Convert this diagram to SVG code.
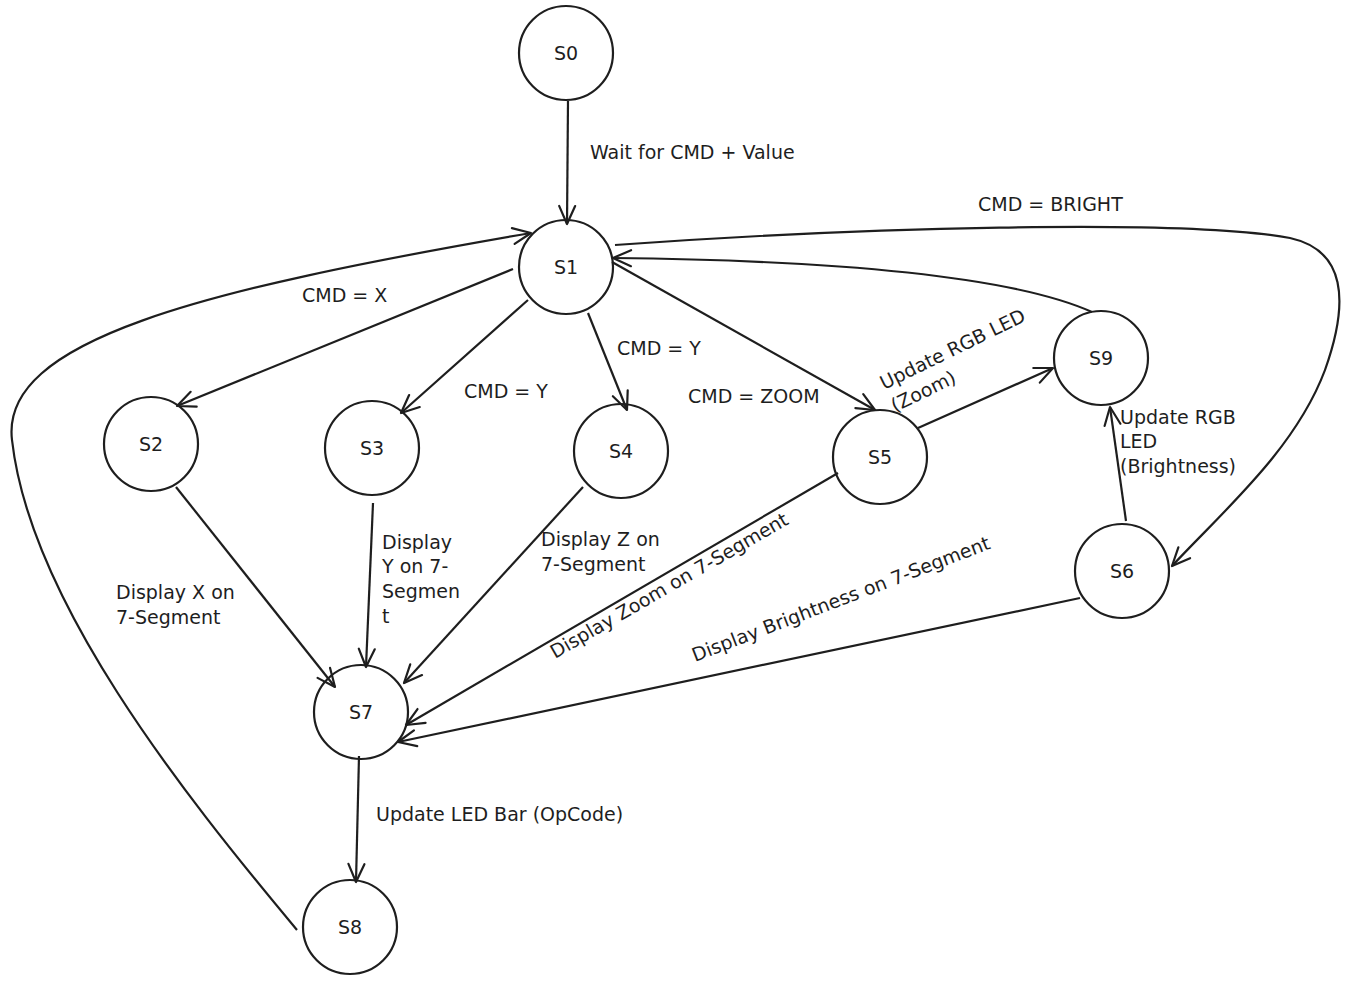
<svg xmlns="http://www.w3.org/2000/svg" width="1357" height="982" viewBox="0 0 1357 982">
<style>
.node circle{fill:none;stroke:#1e1e1e;stroke-width:2.2}
.node text{font-family:"DejaVu Sans",sans-serif;font-size:19px;fill:#1e1e1e;text-anchor:middle}
.edge{fill:none;stroke:#1e1e1e;stroke-width:2.2;marker-end:url(#arr)}
.lbl{font-family:"DejaVu Sans",sans-serif;font-size:19px;fill:#1e1e1e}
</style>
<defs>
<marker id="arr" viewBox="0 0 24 24" refX="21" refY="12" markerWidth="24" markerHeight="24" markerUnits="userSpaceOnUse" orient="auto">
<path d="M3,4 L21,12 L3,20" fill="none" stroke="#1e1e1e" stroke-width="2.2" stroke-linecap="round" stroke-linejoin="round"/>
</marker>
</defs>
<rect width="1357" height="982" fill="#ffffff"/>
<g id="connectors">
<path class="edge" d="M568,101 L567,224"/>
<path class="edge" d="M513,269 L177,406"/>
<path class="edge" d="M528,300 L401,413"/>
<path class="edge" d="M588,313 L627,410"/>
<path class="edge" d="M612,262 L875,410"/>
<path class="edge" d="M615,245 C850,228 1180,218 1290,238 C1345,250 1350,300 1325,370 C1295,450 1222,512 1172,566"/>
<path class="edge" d="M1092,312 Q980,262 613,258"/>
<path class="edge" d="M918,428 L1053,368"/>
<path class="edge" d="M1126,521 L1110,407"/>
<path class="edge" d="M176,487 L335,687"/>
<path class="edge" d="M373,503 L366,667"/>
<path class="edge" d="M583,487 L404,683"/>
<path class="edge" d="M838,473 L406,725"/>
<path class="edge" d="M1080,598 L398,742"/>
<path class="edge" d="M359,756 L356,882"/>
<path class="edge" d="M297,930 C180,790 30,600 12,440 C0,340 200,290 531,233"/>
</g>
<g id="labels">
<text class="lbl" x="590" y="159">Wait for CMD + Value</text>
<text class="lbl" x="978" y="211">CMD = BRIGHT</text>
<text class="lbl" x="302" y="302">CMD = X</text>
<text class="lbl" x="617" y="355">CMD = Y</text>
<text class="lbl" x="464" y="398">CMD = Y</text>
<text class="lbl" x="688" y="403">CMD = ZOOM</text>
<text class="lbl" transform="translate(884,390) rotate(-26)"><tspan x="0" y="0">Update RGB LED</tspan><tspan x="0" y="25">(Zoom)</tspan></text>
<text class="lbl"><tspan x="1120" y="424">Update RGB</tspan><tspan x="1120" y="448">LED</tspan><tspan x="1120" y="473">(Brightness)</tspan></text>
<text class="lbl"><tspan x="116" y="599">Display X on</tspan><tspan x="116" y="624">7-Segment</tspan></text>
<text class="lbl"><tspan x="382" y="549">Display</tspan><tspan x="382" y="573">Y on 7-</tspan><tspan x="382" y="598">Segmen</tspan><tspan x="382" y="623">t</tspan></text>
<text class="lbl"><tspan x="541" y="546">Display Z on</tspan><tspan x="541" y="571">7-Segment</tspan></text>
<text class="lbl" transform="translate(555,659) rotate(-30)">Display Zoom on 7-Segment</text>
<text class="lbl" transform="translate(695,662) rotate(-21)">Display Brightness on 7-Segment</text>
<text class="lbl" x="376" y="821">Update LED Bar (OpCode)</text>
</g>
<g id="S0" class="node"><circle cx="566" cy="53" r="47"/><text x="566" y="60">S0</text></g>
<g id="S1" class="node"><circle cx="566" cy="267" r="47"/><text x="566" y="274">S1</text></g>
<g id="S2" class="node"><circle cx="151" cy="444" r="47"/><text x="151" y="451">S2</text></g>
<g id="S3" class="node"><circle cx="372" cy="448" r="47"/><text x="372" y="455">S3</text></g>
<g id="S4" class="node"><circle cx="621" cy="451" r="47"/><text x="621" y="458">S4</text></g>
<g id="S5" class="node"><circle cx="880" cy="457" r="47"/><text x="880" y="464">S5</text></g>
<g id="S9" class="node"><circle cx="1101" cy="358" r="47"/><text x="1101" y="365">S9</text></g>
<g id="S6" class="node"><circle cx="1122" cy="571" r="47"/><text x="1122" y="578">S6</text></g>
<g id="S7" class="node"><circle cx="361" cy="712" r="47"/><text x="361" y="719">S7</text></g>
<g id="S8" class="node"><circle cx="350" cy="927" r="47"/><text x="350" y="934">S8</text></g>
</svg>
